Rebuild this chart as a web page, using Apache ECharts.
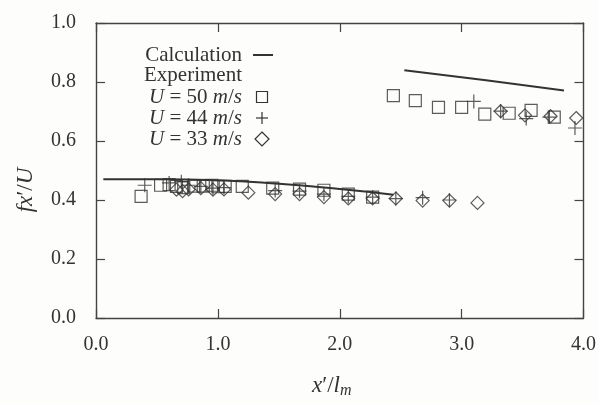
<!DOCTYPE html>
<html>
<head>
<meta charset="utf-8">
<script src="https://cdn.jsdelivr.net/npm/echarts@6/dist/echarts.min.js"></script>
<style>
html,body{margin:0;padding:0;background:#fdfdfb;}
#c{width:599px;height:404px;}
</style>
</head>
<body>
<div id="c"></div>
<script>
// ---- data ----
var xTicks = [0.0, 1.0, 2.0, 3.0, 4.0];
var yTicks = [0.0, 0.2, 0.4, 0.6, 0.8, 1.0];

var calcLow = [[0.06,0.470],[0.5,0.470],[1.0,0.467],[1.5,0.455],[2.0,0.437],[2.44,0.418]];
var calcHigh = [[2.53,0.840],[3.2,0.806],[3.84,0.771]];

var u50 = [[0.37,0.412],[0.53,0.450],[0.60,0.452],[0.66,0.446],[0.72,0.442],[0.80,0.447],[0.88,0.447],[0.95,0.450],[1.00,0.445],[1.06,0.446],[1.20,0.446],[1.45,0.440],[1.67,0.437],[1.87,0.433],[2.07,0.420],[2.27,0.410],
           [2.44,0.754],[2.62,0.737],[2.81,0.714],[3.00,0.714],[3.19,0.691],[3.39,0.694],[3.57,0.704],[3.76,0.681]];
var u44 = [[0.40,0.450],[0.60,0.458],[0.70,0.462],[0.76,0.450],[0.86,0.446],[0.96,0.440],[1.05,0.442],[1.47,0.432],[1.67,0.430],[1.87,0.420],[2.07,0.412],[2.27,0.410],[2.46,0.405],[2.68,0.408],[2.90,0.400],
           [3.10,0.734],[3.32,0.701],[3.53,0.676],[3.72,0.681],[3.93,0.644]];
var u33 = [[0.66,0.435],[0.71,0.430],[0.76,0.436],[0.86,0.440],[0.96,0.435],[1.05,0.436],[1.25,0.425],[1.47,0.420],[1.67,0.420],[1.87,0.410],[2.07,0.405],[2.27,0.405],[2.46,0.405],[2.68,0.398],[2.90,0.398],[3.13,0.390],
           [3.32,0.701],[3.52,0.687],[3.73,0.684],[3.94,0.678]];

var legendRows = ['Calculation', 'Experiment', '50', '44', '33'];

// ---- chart ----
var ink = '#333';
var serif = '"Liberation Serif", "DejaVu Serif", serif';
var chart = echarts.init(document.getElementById('c'), null, {renderer: 'canvas'});

var axisCommon = {
  axisLine: {show: true, onZero: false, lineStyle: {color: '#444', width: 1.4}},
  axisTick: {show: true, inside: true, length: 9, lineStyle: {color: '#444', width: 1.2}},
  splitLine: {show: false}
};

var plusPath = 'path://M0,6 L12,6 M6,0 L6,12';

function legendText(v) {
  return '{i|U} {r|= ' + v + '} {i|m}{r|/}{i|s}';
}

var gtexts = [];
var rowsY = [55, 75, 97, 118, 139];
for (var k = 0; k < legendRows.length; k++) {
  var isU = k >= 2;
  gtexts.push({
    type: 'text', x: 242, y: rowsY[k],
    style: {
      text: isU ? legendText(legendRows[k]) : legendRows[k],
      align: 'right', verticalAlign: 'middle',
      font: '21px ' + serif, fill: ink,
      rich: {
        i: {fontFamily: serif, fontSize: 21, fontStyle: 'italic', fill: ink},
        r: {fontFamily: serif, fontSize: 21, fill: ink}
      }
    }
  });
}
gtexts.push({type: 'line', shape: {x1: 253, y1: 55, x2: 273, y2: 55}, style: {stroke: ink, lineWidth: 2}});
gtexts.push({type: 'rect', shape: {x: 256.5, y: 91.5, width: 11, height: 11}, style: {stroke: ink, fill: 'none', lineWidth: 1.2}});
gtexts.push({type: 'polyline', shape: {points: [[256, 118], [268, 118]]}, style: {stroke: ink, lineWidth: 1.2}});
gtexts.push({type: 'polyline', shape: {points: [[262, 112], [262, 124]]}, style: {stroke: ink, lineWidth: 1.2}});
gtexts.push({type: 'polygon', shape: {points: [[262, 132], [269, 139], [262, 146], [255, 139]]}, style: {stroke: ink, fill: 'none', lineWidth: 1.2}});
// y axis title
gtexts.push({
  type: 'text', x: 26, y: 190, rotation: Math.PI / 2,
  style: {
    text: '{i|fx}{r|′/}{i|U}', align: 'center', verticalAlign: 'middle', fill: ink,
    rich: {
      i: {fontFamily: serif, fontSize: 23, fontStyle: 'italic', fill: ink},
      r: {fontFamily: serif, fontSize: 23, fill: ink}
    }
  }
});

var option = {
  backgroundColor: '#fdfdfb',
  animation: false,
  grid: {left: 96, right: 12, top: 23, bottom: 80},
  xAxis: [
    Object.assign({
      type: 'value', min: xTicks[0], max: xTicks[xTicks.length - 1], interval: 1,
      position: 'bottom',
      axisLabel: {show: true, margin: 17, color: ink, fontFamily: serif, fontSize: 20,
        formatter: function (v) { return v.toFixed(1); }},
      name: '{i|x}{r|′/}{i|l}{s|m}',
      nameLocation: 'middle', nameGap: 55,
      nameTextStyle: {padding: [0, 16, 0, 0], rich: {
        i: {fontFamily: serif, fontSize: 23, fontStyle: 'italic', color: ink},
        r: {fontFamily: serif, fontSize: 23, color: ink},
        s: {fontFamily: serif, fontSize: 16, fontStyle: 'italic', color: ink, padding: [10, 0, 0, 0]}
      }}
    }, axisCommon),
    Object.assign({
      type: 'value', min: xTicks[0], max: xTicks[xTicks.length - 1], interval: 1,
      position: 'top', axisLabel: {show: false}
    }, axisCommon)
  ],
  yAxis: [
    Object.assign({
      type: 'value', min: yTicks[0], max: yTicks[yTicks.length - 1], interval: 0.2,
      position: 'left',
      axisLabel: {show: true, margin: 20, color: ink, fontFamily: serif, fontSize: 20,
        formatter: function (v) { return v.toFixed(1); }}
    }, axisCommon),
    Object.assign({
      type: 'value', min: yTicks[0], max: yTicks[yTicks.length - 1], interval: 0.2,
      position: 'right', axisLabel: {show: false}
    }, axisCommon)
  ],
  series: [
    {name: 'Calculation', type: 'line', data: calcLow, showSymbol: false, smooth: true,
      lineStyle: {color: ink, width: 2}},
    {name: 'Calculation ', type: 'line', data: calcHigh, showSymbol: false, smooth: true,
      lineStyle: {color: ink, width: 2}},
    {name: 'U = 50 m/s', type: 'scatter', data: u50, symbol: 'rect', symbolSize: 12,
      itemStyle: {color: 'rgba(0,0,0,0)', borderColor: ink, borderWidth: 1.2}},
    {name: 'U = 44 m/s', type: 'scatter', data: u44, symbol: plusPath, symbolSize: 14,
      itemStyle: {color: 'rgba(0,0,0,0)', borderColor: ink, borderWidth: 1.2}},
    {name: 'U = 33 m/s', type: 'scatter', data: u33, symbol: 'diamond', symbolSize: 13,
      itemStyle: {color: 'rgba(0,0,0,0)', borderColor: ink, borderWidth: 1.2}}
  ],
  graphic: gtexts
};
chart.setOption(option);
</script>
</body>
</html>
